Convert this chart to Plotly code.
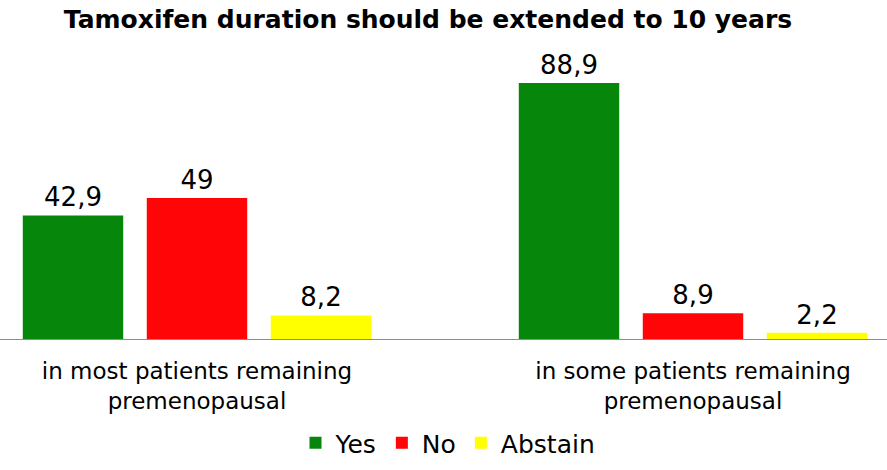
import plotly.graph_objects as go

categories = ["in most patients remaining<br>premenopausal", "in some patients remaining<br>premenopausal"]
series_names = ["Yes", "No", "Abstain"]
yes_values = [42.9, 88.9]
no_values = [49, 8.9]
abstain_values = [8.2, 2.2]
colors = ["#06860A", "#FF0508", "#FFFF00"]

def fmt(v):
    return f"{v:g}".replace(".", ",")

fig = go.Figure()
for name, vals, col in zip(series_names, [yes_values, no_values, abstain_values], colors):
    fig.add_trace(go.Bar(
        x=categories, y=vals, name=name,
        marker=dict(color=col, line=dict(width=0)),
        text=[fmt(v) for v in vals], textposition="outside",
        textfont=dict(size=26, color="black"), cliponaxis=False,
    ))

fig.update_layout(
    width=887, height=470,
    margin=dict(l=0, r=0, t=60, b=131),
    paper_bgcolor="white", plot_bgcolor="white",
    font=dict(family="DejaVu Sans, sans-serif", color="black"),
    title=dict(text="<b>Tamoxifen duration should be extended to 10 years</b>",
               x=428/887, xanchor="center", y=1-19/470, yanchor="middle",
               yref="container", font=dict(size=25, color="black")),
    barmode="group", bargap=0.25, bargroupgap=0.19,
    showlegend=True,
    legend=dict(orientation="h", x=448/887, xanchor="center", y=1-443/470, yanchor="middle",
                yref="container", font=dict(size=25), traceorder="normal"),
    xaxis=dict(range=[-197/496, (887-197)/496], showline=True, linecolor="#8c8c8c", linewidth=1,
               ticks="", tickfont=dict(size=23), showgrid=False, ticklabelstandoff=11),
    yaxis=dict(range=[0, (339-60)/2.88], visible=False, showgrid=False),
)
fig.write_html("out.html")
